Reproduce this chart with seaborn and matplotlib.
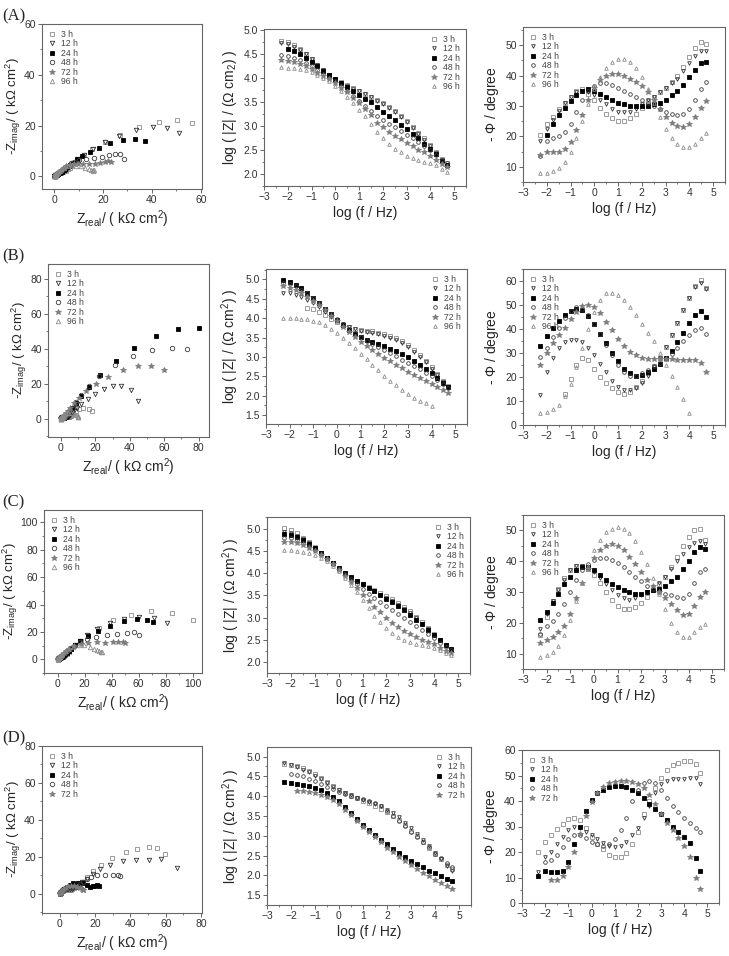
import numpy as np
import pandas as pd
import matplotlib
matplotlib.use('Agg')
import matplotlib.pyplot as plt
from matplotlib.ticker import MultipleLocator, FormatStrFormatter
import seaborn as sns

nan = float('nan')

# log frequency grid (read positions)
LOGF = [-2.3, -2.0, -1.75, -1.5, -1.25, -1.0, -0.75, -0.5, -0.25, 0.0, 0.25, 0.5, 0.75, 1.0,
        1.25, 1.5, 1.75, 2.0, 2.25, 2.5, 2.75, 3.0, 3.25, 3.5, 3.75, 4.0, 4.25, 4.5, 4.7]

HOURS = ['3 h', '12 h', '24 h', '48 h', '72 h', '96 h']

# ---- (A) log|Z| ----
Z_A_3 = [4.78, 4.74, 4.68, 4.60, 4.50, 4.39, 4.28, 4.17, 4.07, 3.98, 3.91, 3.85, 3.79, 3.73, 3.67, 3.61, 3.55, 3.48, 3.40, 3.31, 3.21, 3.10, 2.98, 2.86, 2.74, 2.60, 2.46, 2.32, 2.22]
Z_A_12 = [4.73, 4.70, 4.65, 4.58, 4.49, 4.39, 4.28, 4.17, 4.07, 3.98, 3.90, 3.84, 3.78, 3.72, 3.66, 3.60, 3.53, 3.46, 3.38, 3.29, 3.19, 3.08, 2.96, 2.84, 2.71, 2.58, 2.44, 2.30, 2.19]
Z_A_24 = [nan, 4.60, 4.56, 4.50, 4.42, 4.33, 4.24, 4.15, 4.06, 3.97, 3.89, 3.81, 3.73, 3.65, 3.57, 3.49, 3.40, 3.30, 3.21, 3.12, 3.03, 2.94, 2.84, 2.74, 2.63, 2.52, 2.41, 2.28, 2.18]
Z_A_48 = [4.47, 4.45, 4.42, 4.38, 4.32, 4.25, 4.17, 4.08, 4.00, 3.93, 3.83, 3.72, 3.62, 3.52, 3.42, 3.32, 3.21, 3.12, 3.05, 2.97, 2.90, 2.82, 2.75, 2.67, 2.59, 2.50, 2.40, 2.30, 2.22]
Z_A_72 = [4.38, 4.36, 4.33, 4.29, 4.24, 4.18, 4.11, 4.04, 3.97, 3.89, 3.80, 3.70, 3.59, 3.47, 3.35, 3.22, 3.07, 2.97, 2.88, 2.80, 2.72, 2.65, 2.58, 2.51, 2.45, 2.38, 2.30, 2.21, 2.14]
Z_A_96 = [4.22, 4.21, 4.20, 4.18, 4.16, 4.12, 4.07, 4.00, 3.93, 3.84, 3.73, 3.60, 3.47, 3.34, 3.20, 3.04, 2.88, 2.75, 2.63, 2.53, 2.45, 2.38, 2.33, 2.29, 2.26, 2.23, 2.18, 2.11, 2.05]
# ---- (A) -phase ----
P_A_3 = [20.5, 24, 26.5, 29, 31, 33, 35, 35.5, 34, 32, 29.5, 27.5, 26, 25, 25, 26, 27.5, 29.5, 31.5, 33, 34.5, 36, 38, 40, 43, 46, 49, 51, 50.5]
P_A_12 = [18.5, 22.5, 25.5, 28.5, 31, 33, 34.5, 35, 34.5, 33.5, 32, 30.5, 29, 28, 28, 28, 29, 30.5, 32, 33, 34.5, 36, 37.5, 39, 41.5, 44, 46.5, 48, 48]
P_A_24 = [nan, 20.5, 24, 27, 29.5, 31.5, 33.5, 35, 35.5, 35, 34, 33, 32, 31, 30.5, 30, 30, 30, 30, 30.5, 31, 32, 33.5, 35, 37, 39.5, 42, 44, 44.5]
P_A_48 = [13.5, 18.5, 19.5, 20, 21.5, 24, 28, 32, 35, 36.5, 37.5, 37.5, 37, 36, 35, 34, 33, 32, 31, 30, 29, 28, 27.5, 27, 27.5, 29, 32, 35.5, 38]
P_A_72 = [14, 15, 15, 15, 16, 18, 22, 27, 32, 36, 38.5, 40, 40.5, 40.5, 40, 39, 38, 36.5, 34.5, 32, 29, 26.5, 24.5, 23.5, 23, 24, 26.5, 29.5, 31.5]
P_A_96 = [8, 8, 8.5, 9.5, 11.5, 15, 19.5, 25, 30.5, 35.5, 39.5, 42.5, 44.5, 45.5, 45.5, 44.5, 42.5, 39.5, 35.5, 31, 26.5, 22.5, 19.5, 17.5, 16.5, 16.5, 17.5, 19.5, 21]

# ---- (B) log|Z| ----
Z_B_3 = [nan, nan, nan, nan, 4.27, 4.23, 4.16, 4.07, 3.98, 3.90, 3.83, 3.77, 3.73, 3.70, 3.68, 3.66, 3.63, 3.60, 3.55, 3.49, 3.41, 3.31, 3.19, 3.05, 2.90, 2.73, 2.56, 2.38, 2.25]
Z_B_12 = [4.66, 4.64, 4.60, 4.55, 4.48, 4.39, 4.28, 4.16, 4.04, 3.93, 3.84, 3.77, 3.72, 3.68, 3.65, 3.62, 3.59, 3.55, 3.50, 3.44, 3.36, 3.26, 3.14, 3.01, 2.86, 2.70, 2.53, 2.36, 2.23]
Z_B_24 = [4.98, 4.93, 4.86, 4.77, 4.66, 4.53, 4.39, 4.24, 4.10, 3.95, 3.82, 3.70, 3.60, 3.52, 3.45, 3.39, 3.33, 3.27, 3.21, 3.15, 3.07, 2.99, 2.90, 2.80, 2.70, 2.58, 2.45, 2.32, 2.22]
Z_B_48 = [4.92, 4.88, 4.82, 4.74, 4.64, 4.52, 4.39, 4.25, 4.11, 3.97, 3.84, 3.72, 3.61, 3.51, 3.42, 3.34, 3.26, 3.18, 3.10, 3.02, 2.93, 2.84, 2.76, 2.68, 2.59, 2.50, 2.40, 2.29, 2.20]
Z_B_72 = [4.82, 4.78, 4.73, 4.66, 4.56, 4.45, 4.33, 4.20, 4.06, 3.92, 3.78, 3.64, 3.51, 3.39, 3.28, 3.18, 3.08, 2.98, 2.89, 2.80, 2.71, 2.62, 2.54, 2.46, 2.38, 2.30, 2.22, 2.14, 2.07]
Z_B_96 = [4.01, 4.01, 4.00, 3.99, 3.97, 3.94, 3.89, 3.82, 3.73, 3.62, 3.49, 3.36, 3.22, 3.08, 2.94, 2.80, 2.66, 2.52, 2.39, 2.27, 2.15, 2.04, 1.95, 1.87, 1.80, 1.74, nan, nan, nan]
# ---- (B) -phase ----
P_B_3 = [nan, nan, nan, nan, 13, 19, 25, 28, 27, 23.5, 20, 17.5, 15.3, 13.7, 13, 13.8, 15.8, 18.5, 21.5, 24.5, 28, 32.5, 37.5, 42.5, 48, 53, 58, 60.3, 57]
P_B_12 = [12.5, 22, 28, 32, 34.5, 35.5, 35.5, 34.5, 32, 29, 25.5, 22, 18.5, 16, 14.5, 14.5, 15.5, 17.5, 20.5, 24, 28, 32.5, 37.5, 42.5, 48, 53, 57.5, 59, 56.5]
P_B_24 = [33, 37, 40.5, 43.5, 46, 47.5, 48.5, 48, 45.5, 42, 38, 34, 30, 26.5, 23.5, 21.5, 20.5, 21, 22, 23.5, 25.5, 28, 31, 34.5, 38.5, 42.5, 46, 47.5, 45]
P_B_48 = [28.5, 32, 36.5, 40.5, 44.5, 47.5, 49, 48.5, 46, 42, 38, 33.5, 29, 25, 22, 20.5, 20.5, 21.5, 23, 24.5, 26, 27.5, 29.5, 32, 35, 37.5, 39.5, 40.5, 38]
P_B_72 = [25, 30, 34, 37.5, 40.5, 44, 47, 49.5, 50, 49, 46.5, 43, 39.5, 36, 33, 30.5, 29, 28, 27.5, 27.5, 27.5, 27.5, 27.5, 27, 27, 27, 27, 26, 22]
P_B_96 = [5, 5.5, 6.5, 8.5, 12, 17, 24, 32, 40, 47, 52, 55, 55, 54, 52, 49, 46, 42, 38.5, 35, 30, 25, 20.5, 16, 11, 5, nan, nan, nan]

# ---- (C) log|Z| ----
Z_C_3 = [5.02, 4.96, 4.89, 4.80, 4.70, 4.58, 4.46, 4.34, 4.22, 4.10, 3.99, 3.90, 3.82, 3.75, 3.68, 3.62, 3.56, 3.49, 3.42, 3.34, 3.25, 3.14, 3.02, 2.90, 2.77, 2.64, 2.51, 2.39, 2.30]
Z_C_12 = [4.93, 4.89, 4.83, 4.76, 4.67, 4.56, 4.45, 4.33, 4.22, 4.11, 4.00, 3.90, 3.81, 3.73, 3.66, 3.59, 3.52, 3.45, 3.37, 3.29, 3.20, 3.10, 2.99, 2.87, 2.75, 2.62, 2.49, 2.37, 2.28]
Z_C_24 = [4.88, 4.86, 4.82, 4.75, 4.66, 4.56, 4.45, 4.33, 4.22, 4.11, 4.01, 3.92, 3.83, 3.75, 3.67, 3.59, 3.51, 3.43, 3.35, 3.26, 3.17, 3.07, 2.96, 2.85, 2.73, 2.61, 2.49, 2.38, 2.30]
Z_C_48 = [4.80, 4.78, 4.74, 4.68, 4.61, 4.52, 4.42, 4.31, 4.20, 4.09, 3.97, 3.86, 3.75, 3.64, 3.54, 3.44, 3.35, 3.26, 3.17, 3.08, 2.99, 2.90, 2.81, 2.72, 2.63, 2.54, 2.44, 2.34, 2.27]
Z_C_72 = [4.71, 4.70, 4.67, 4.63, 4.57, 4.50, 4.41, 4.31, 4.20, 4.07, 3.94, 3.80, 3.66, 3.52, 3.38, 3.25, 3.12, 3.00, 2.89, 2.80, 2.71, 2.64, 2.57, 2.51, 2.45, 2.40, 2.33, 2.26, 2.20]
Z_C_96 = [4.52, 4.51, 4.50, 4.48, 4.45, 4.41, 4.35, 4.27, 4.17, 4.05, 3.90, 3.74, 3.57, 3.40, 3.22, 3.05, 2.90, 2.77, 2.66, 2.57, 2.51, 2.46, 2.42, 2.39, 2.36, 2.32, 2.27, 2.21, 2.16]
# ---- (C) -phase ----
P_C_3 = [16, 22, 27, 31, 34.5, 37, 38.5, 38.5, 37.5, 35.5, 33, 30, 27.5, 25.5, 24.5, 24.5, 25, 26.5, 28.5, 30.5, 32.5, 35, 38, 41.5, 45, 48, 50, 50.5, 47]
P_C_12 = [18, 23, 27, 30.5, 34, 37, 38.5, 38.5, 38, 36.5, 34.5, 32.5, 30.5, 29, 28, 27.5, 28, 29, 30, 31.5, 33, 35, 37.5, 40, 42.5, 44.5, 46, 46.5, 45.5]
P_C_24 = [21, 23.5, 26.5, 29.5, 32.5, 35, 37, 38, 38, 37, 35.5, 34, 32.5, 31.5, 30.5, 30, 29.5, 29.5, 30, 30.5, 31, 32, 33.5, 35, 37.5, 40, 43, 44.5, 44]
P_C_48 = [16.5, 19, 20.5, 23, 26, 30, 34, 37, 39, 40.5, 41, 41, 40.5, 39.5, 38, 36.5, 35, 33.5, 32, 31, 30, 29.5, 29, 28.5, 28, 29.5, 33, 36.5, 37.5]
P_C_72 = [13.5, 14.5, 15.5, 17, 19, 23, 28, 33, 37.5, 41, 43.5, 45, 45.5, 45, 43.5, 41.5, 39, 36.5, 34, 32, 30, 28, 26, 24, 22.5, 23, 25.5, 28.5, 30]
P_C_96 = [9, 9.5, 10.5, 12.5, 16, 21, 27, 33, 38.5, 43.5, 47, 49.5, 50.5, 51, 50.5, 49, 46.5, 43, 39, 34.5, 29.5, 24.5, 20, 17, 15.5, 15.5, 17, 18.5, 19.5]

# ---- (D) log|Z| ----
Z_D_3 = [4.80, 4.78, 4.75, 4.70, 4.64, 4.55, 4.45, 4.35, 4.25, 4.15, 4.07, 4.00, 3.94, 3.88, 3.82, 3.75, 3.68, 3.60, 3.50, 3.39, 3.26, 3.13, 2.99, 2.85, 2.70, 2.55, 2.41, 2.27, 2.16]
Z_D_12 = [4.83, 4.78, 4.73, 4.67, 4.60, 4.51, 4.42, 4.33, 4.24, 4.15, 4.08, 4.02, 3.96, 3.91, 3.86, 3.80, 3.74, 3.66, 3.57, 3.46, 3.33, 3.19, 3.04, 2.89, 2.73, 2.57, 2.41, 2.24, 2.10]
Z_D_24 = [4.35, 4.33, 4.30, 4.28, 4.25, 4.21, 4.15, 4.07, 3.98, 3.87, 3.73, 3.58, 3.43, 3.28, 3.14, 3.01, 2.89, 2.78, 2.67, 2.57, 2.47, 2.37, 2.28, 2.20, 2.12, 2.05, 1.98, 1.91, 1.85]
Z_D_48 = [nan, 4.55, 4.54, 4.50, 4.44, 4.37, 4.30, 4.24, 4.17, 4.10, 4.05, 4.00, 3.96, 3.92, 3.88, 3.82, 3.74, 3.63, 3.50, 3.37, 3.24, 3.10, 2.96, 2.84, 2.72, 2.55, 2.43, 2.30, 2.20]
Z_D_72 = [nan, nan, 4.13, 4.13, 4.11, 4.08, 4.03, 3.97, 3.89, 3.79, 3.66, 3.52, 3.38, 3.23, 3.09, 2.96, 2.84, 2.70, 2.58, 2.46, 2.35, 2.25, 2.15, 2.06, 1.97, 1.88, 1.80, 1.72, 1.66]
# ---- (D) -phase ----
P_D_3 = [20, 24, 26.5, 29, 31, 33, 33.5, 32.5, 29.5, 26, 23, 21, 19, 18, 18, 19.5, 23, 28, 35, 40, 45, 49, 52, 54, 55, 55.5, 55.5, 54.5, 51]
P_D_12 = [12, 18, 20, 23, 26, 28.5, 30, 29.5, 28, 26.5, 25, 23.5, 22.5, 22, 22.5, 24, 26.5, 29.5, 33.5, 38, 43, 46.5, 48, 48.5, 48.5, 48.5, 49, 49, 46.5]
P_D_24 = [10.5, 12.5, 12, 12, 12.5, 16, 23, 30, 36, 40.5, 43, 44.5, 45.5, 46, 46, 45.5, 44.5, 43, 41, 39, 37, 35, 32.5, 30, 28, 26, 23.5, 17.5, 12.5]
P_D_48 = [nan, 16, 17, 19, 22, 25, 26.5, 26.5, 25.5, 24, 23, 22.5, 23, 25, 28.5, 33.5, 40, 44.5, 47, 48, 47, 44.5, 41, 38, 35.5, 33.5, 31.5, 29.5, 28]
P_D_72 = [nan, nan, 9, 9, 10.5, 14, 20, 27, 34, 39.5, 43, 45.5, 47, 47.5, 48, 48, 47.5, 46.5, 45, 42.5, 39, 35, 31.5, 28.5, 25.5, 22.5, 18, 10, 5.5]

ROW_Z = [[Z_A_3, Z_A_12, Z_A_24, Z_A_48, Z_A_72, Z_A_96],
         [Z_B_3, Z_B_12, Z_B_24, Z_B_48, Z_B_72, Z_B_96],
         [Z_C_3, Z_C_12, Z_C_24, Z_C_48, Z_C_72, Z_C_96],
         [Z_D_3, Z_D_12, Z_D_24, Z_D_48, Z_D_72]]
ROW_P = [[P_A_3, P_A_12, P_A_24, P_A_48, P_A_72, P_A_96],
         [P_B_3, P_B_12, P_B_24, P_B_48, P_B_72, P_B_96],
         [P_C_3, P_C_12, P_C_24, P_C_48, P_C_72, P_C_96],
         [P_D_3, P_D_12, P_D_24, P_D_48, P_D_72]]
ROW_TAGS = ['(A)', '(B)', '(C)', '(D)']

# marker style per series
MARKERS = {'3 h': ('s', '#8c8c8c', False), '12 h': ('v', '#303030', False),
           '24 h': ('s', '#000000', True), '48 h': ('o', '#3c3c3c', False),
           '72 h': ('*', '#7c7c7c', True), '96 h': ('^', '#8c8c8c', False)}

sns.set_style('ticks')
plt.rcParams['font.family'] = 'sans-serif'
plt.rcParams['font.sans-serif'] = ['Liberation Sans', 'DejaVu Sans']
plt.rcParams['mathtext.default'] = 'regular'

W, H = 729, 956
fig = plt.figure(figsize=(W / 100, H / 100), dpi=100)


def add_ax(x0, y0, x1, y1):
    return fig.add_axes([x0 / W, 1 - y1 / H, (x1 - x0) / W, (y1 - y0) / H])


# axes boxes in pixels (left, top, right, bottom)
NYQ_BOX = [(42, 24, 202, 189), (48, 264, 209, 437), (44, 510, 202, 673), (42, 746, 202, 913)]
MOD_BOX = [(264, 29, 466, 186), (266, 269, 467, 424), (267, 517, 470, 673), (267, 747, 471, 905)]
PHA_BOX = [(523, 27, 725, 182), (523, 269, 725, 425), (523, 515, 724, 669), (522, 750, 719, 903)]

NYQ_XLIM = [(-5, 60.5), (-7.5, 86), (-10, 107), (-10, 80.5)]
NYQ_YLIM = [(-5, 60), (-10.5, 88.5), (-10, 109), (-10.5, 80)]
MOD_YLIM = [(1.75, 5.02), (1.27, 5.27), (1.76, 5.26), (1.25, 5.24)]
PHA_YLIM = [(5, 56), (0, 65), (5, 55), (0, 60)]

SPINE = '#666666'
TICKC = '#333333'
LEG = dict(frameon=False, fontsize=6.2, handletextpad=0.5, labelspacing=0.05,
           borderaxespad=0.3, handlelength=1.0, labelcolor='#444444')


def style(ax):
    for s in ax.spines.values():
        s.set_visible(True)
        s.set_color(SPINE)
        s.set_linewidth(0.8)
    ax.tick_params(which='major', direction='out', length=3, width=0.7, color=SPINE,
                   labelsize=7.5, labelcolor=TICKC, pad=1.5)
    ax.tick_params(which='minor', direction='out', length=1.6, width=0.6, color=SPINE)


def draw(ax, xs, ys, hour, ms):
    m, c, filled = MARKERS[hour]
    sns.lineplot(x=xs, y=ys, ax=ax, color=c, marker=m, markersize=ms if m != '*' else ms + 1.2,
                 mfc=c if filled else 'none', mec=c, mew=0.6, linestyle='', sort=False,
                 estimator=None, label=hour)


for r in range(4):
    zs = ROW_Z[r]
    ps = ROW_P[r]
    hours = HOURS[:len(zs)]
    logf = np.array(LOGF)

    # Nyquist (from |Z| and phase)
    ax = add_ax(*NYQ_BOX[r])
    for h, z, p in zip(hours, zs, ps):
        z = np.array(z)
        p = np.array(p)
        mod = 10 ** z / 1000.0
        zr = mod * np.cos(np.radians(p))
        zi = mod * np.sin(np.radians(p))
        ok = ~np.isnan(zr)
        draw(ax, zr[ok], zi[ok], h, 3.2)
    ax.set_xlim(*NYQ_XLIM[r])
    ax.set_ylim(*NYQ_YLIM[r])
    ax.xaxis.set_major_locator(MultipleLocator(20))
    ax.yaxis.set_major_locator(MultipleLocator(20))
    ax.xaxis.set_minor_locator(MultipleLocator(10))
    ax.yaxis.set_minor_locator(MultipleLocator(10))
    ax.set_xlabel(r'$Z_{real}$/ ( k$\Omega$ cm$^2$)', fontsize=10, labelpad=2)
    ax.set_ylabel(r'-$Z_{imag}$/ ( k$\Omega$ cm$^2$)', fontsize=9.5, labelpad=0.5)
    style(ax)
    ax.legend(loc='upper left', **LEG)
    fig.text(2 / W, 1 - (NYQ_BOX[r][1] - 8) / H, ROW_TAGS[r], fontsize=12,
             family=['Liberation Serif', 'DejaVu Serif'], va='center', ha='left')

    # Bode modulus
    ax = add_ax(*MOD_BOX[r])
    for h, z in zip(hours, zs):
        z = np.array(z)
        ok = ~np.isnan(z)
        draw(ax, logf[ok], z[ok], h, 2.6)
    ax.set_xlim(-3, 5.5)
    ax.set_ylim(*MOD_YLIM[r])
    ax.xaxis.set_major_locator(MultipleLocator(1))
    ax.xaxis.set_minor_locator(MultipleLocator(0.5))
    ax.yaxis.set_major_locator(MultipleLocator(0.5))
    ax.yaxis.set_minor_locator(MultipleLocator(0.25))
    ax.yaxis.set_major_formatter(FormatStrFormatter('%.1f'))
    ax.set_xlabel('log (f / Hz)', fontsize=10, labelpad=3)
    if r == 0:
        ax.set_ylabel(r'log ( |Z| / ($\Omega$ cm$_2$) )', fontsize=10, labelpad=3)
    else:
        ax.set_ylabel(r'log ( |Z| / ($\Omega$ cm$^2$) )', fontsize=10, labelpad=3)
    style(ax)
    ax.legend(loc='upper right', **LEG)

    # Bode phase
    ax = add_ax(*PHA_BOX[r])
    for h, p in zip(hours, ps):
        p = np.array(p)
        ok = ~np.isnan(p)
        draw(ax, logf[ok], p[ok], h, 2.6)
    ax.set_xlim(-3, 5.5)
    ax.set_ylim(*PHA_YLIM[r])
    ax.xaxis.set_major_locator(MultipleLocator(1))
    ax.xaxis.set_minor_locator(MultipleLocator(0.5))
    ax.yaxis.set_major_locator(MultipleLocator(10))
    ax.yaxis.set_minor_locator(MultipleLocator(5))
    ax.set_xlabel('log (f / Hz)', fontsize=10, labelpad=3)
    ax.set_ylabel(r'- $\Phi$ / degree', fontsize=10, labelpad=3)
    style(ax)
    ax.legend(loc='upper left', **LEG)

fig.savefig('out.png', dpi=100, facecolor='white')
